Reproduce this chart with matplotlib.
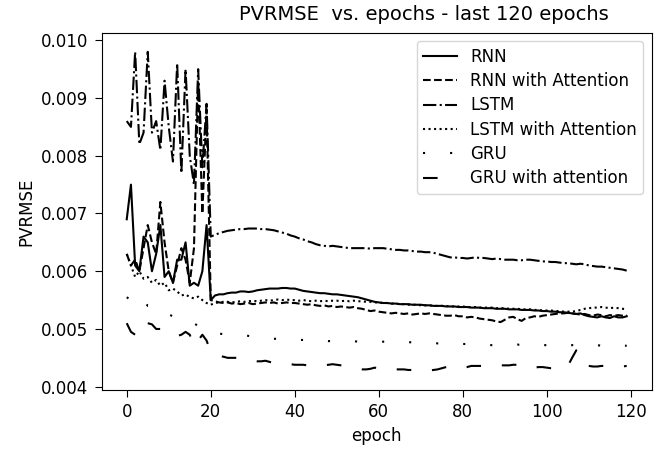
import numpy as np
import matplotlib
matplotlib.use("Agg")
import matplotlib.pyplot as plt

epochs = list(range(120))

rnn = [0.0069, 0.0075, 0.0061, 0.0060, 0.0066, 0.0065, 0.0060, 0.0063, 0.0068, 0.0059,
       0.0060, 0.0058, 0.0062, 0.0062, 0.0065, 0.00575, 0.0058, 0.00575, 0.0060, 0.0068,
       0.0055, 0.00558, 0.0056, 0.0056, 0.00562, 0.00563, 0.00563, 0.00565, 0.00565, 0.00564,
       0.00565, 0.00567, 0.00568, 0.00569, 0.0057, 0.0057, 0.0057, 0.00571, 0.00571, 0.0057,
       0.0057, 0.00568, 0.00566, 0.00565, 0.00564, 0.00563, 0.00562, 0.00562, 0.00561, 0.0056,
       0.0056, 0.00559, 0.00558, 0.00557, 0.00556, 0.00555, 0.00553, 0.00551, 0.00549, 0.00547,
       0.00546, 0.00545, 0.00545, 0.00544, 0.00544, 0.00543, 0.00543, 0.00543, 0.00542, 0.00542,
       0.00542, 0.00541, 0.00541, 0.0054, 0.0054, 0.0054, 0.00539, 0.00539, 0.00539, 0.00538,
       0.00538, 0.00538, 0.00537, 0.00537, 0.00537, 0.00536, 0.00536, 0.00536, 0.00535, 0.00535,
       0.00535, 0.00534, 0.00534, 0.00534, 0.00533, 0.00533, 0.00533, 0.00532, 0.00532, 0.00531,
       0.00531, 0.0053, 0.0053, 0.00529, 0.00529, 0.00528, 0.00527, 0.00526, 0.00527, 0.00524,
       0.00522, 0.00521, 0.0052, 0.00522, 0.0052, 0.00519, 0.00522, 0.0052, 0.0052, 0.00522]

rnn_att = [0.0063, 0.0061, 0.0062, 0.0060, 0.0064, 0.0068, 0.0065, 0.0063, 0.0072, 0.0065,
           0.0060, 0.0058, 0.0061, 0.0064, 0.0062, 0.0058, 0.0064, 0.0093, 0.0070, 0.0088,
           0.0055, 0.00548, 0.00546, 0.00545, 0.00546, 0.00544, 0.00545, 0.00543, 0.00544, 0.00545,
           0.00543, 0.00544, 0.00545, 0.00546, 0.00545, 0.00546, 0.00544, 0.00545, 0.00546, 0.00545,
           0.00545, 0.00544, 0.00543, 0.00542, 0.00543, 0.00541, 0.0054, 0.00541, 0.00539, 0.0054,
           0.00538, 0.00539, 0.00538, 0.00537, 0.00538, 0.00536, 0.00535, 0.00533, 0.00531, 0.00532,
           0.0053, 0.00529, 0.00528, 0.00527, 0.00528, 0.00527, 0.00526, 0.00527, 0.00525, 0.00526,
           0.00527, 0.00526, 0.00527, 0.00526, 0.00525, 0.00524, 0.00523, 0.00523, 0.00524, 0.00522,
           0.00522, 0.0052, 0.00521, 0.0052, 0.00518, 0.00517, 0.00516, 0.00515, 0.00513, 0.00512,
           0.00516, 0.0052, 0.00521, 0.00517, 0.00514, 0.00519, 0.0052, 0.00522, 0.00521, 0.00523,
           0.00524, 0.00525, 0.00526, 0.00527, 0.00527, 0.00528, 0.00527, 0.00526, 0.00525, 0.00526,
           0.00524, 0.00523, 0.00525, 0.00524, 0.00522, 0.00524, 0.00523, 0.00524, 0.00523, 0.00524]

lstm = [0.0086, 0.0085, 0.0098, 0.0082, 0.0084, 0.0098, 0.0084, 0.0086, 0.0081, 0.0093,
        0.0085, 0.0079, 0.0096, 0.0077, 0.0095, 0.0080, 0.0075, 0.0095, 0.0078, 0.0089,
        0.0066, 0.00663, 0.00666, 0.00668, 0.0067, 0.00671, 0.00672, 0.00673, 0.00673, 0.00674,
        0.00674, 0.00674, 0.00673, 0.00673, 0.00672, 0.00671, 0.00669, 0.00667, 0.00665, 0.00662,
        0.0066, 0.00657, 0.00655, 0.00652, 0.0065, 0.00647, 0.00645, 0.00644, 0.00643, 0.00644,
        0.00643, 0.00642, 0.00641, 0.0064, 0.0064, 0.0064, 0.0064, 0.0064, 0.00639, 0.0064,
        0.0064, 0.0064, 0.00639, 0.00638, 0.00637, 0.00637, 0.00636, 0.00636, 0.00635, 0.00634,
        0.00634, 0.00633, 0.00633, 0.00632, 0.0063, 0.00628, 0.00626, 0.00624, 0.00624, 0.00623,
        0.00623, 0.00622, 0.00623, 0.00624, 0.00623, 0.00623, 0.00622, 0.00621, 0.00622, 0.00621,
        0.0062, 0.0062, 0.0062, 0.00619, 0.00619, 0.0062, 0.0062, 0.00619, 0.00618, 0.00617,
        0.00617, 0.00616, 0.00616, 0.00615, 0.00614, 0.00614, 0.00613, 0.00612, 0.00613, 0.00612,
        0.0061, 0.00609, 0.00608, 0.00608, 0.00607, 0.00606, 0.00605, 0.00604, 0.00603, 0.00601]

lstm_att = [0.0063, 0.0061, 0.0059, 0.0060, 0.00587, 0.0059, 0.0058, 0.00585, 0.00575, 0.0058,
            0.00567, 0.0057, 0.00565, 0.00558, 0.0056, 0.00555, 0.00553, 0.00556, 0.0055, 0.00545,
            0.00542, 0.00545, 0.00546, 0.00547, 0.00547, 0.00546, 0.00547, 0.00548, 0.00547, 0.00548,
            0.00549, 0.00548, 0.00549, 0.0055, 0.00549, 0.0055, 0.00551, 0.0055, 0.00551, 0.0055,
            0.0055, 0.00549, 0.0055, 0.00549, 0.00548, 0.00549, 0.00548, 0.00549, 0.00548, 0.00549,
            0.00549, 0.00548, 0.00549, 0.00548, 0.00549, 0.00548, 0.00548, 0.00547, 0.00547, 0.00546,
            0.00546, 0.00545, 0.00545, 0.00544, 0.00544, 0.00543, 0.00543, 0.00542, 0.00542, 0.00542,
            0.00541, 0.00541, 0.00541, 0.0054, 0.0054, 0.0054, 0.0054, 0.00539, 0.00539, 0.00539,
            0.00539, 0.00538, 0.00538, 0.00538, 0.00537, 0.00537, 0.00537, 0.00537, 0.00536, 0.00536,
            0.00536, 0.00535, 0.00535, 0.00535, 0.00534, 0.00534, 0.00534, 0.00533, 0.00533, 0.00532,
            0.00532, 0.00532, 0.00531, 0.00531, 0.0053, 0.0053, 0.0053, 0.00531, 0.00533, 0.00535,
            0.00536, 0.00537, 0.00537, 0.00538, 0.00537, 0.00536, 0.00537, 0.00536, 0.00535, 0.00534]

gru = [0.00555, 0.0055, 0.0055, 0.00558, 0.0055, 0.0054, 0.0054, 0.00535, 0.0053, 0.0053,
       0.00525, 0.00522, 0.0052, 0.0052, 0.00518, 0.00515, 0.0051, 0.00505, 0.005, 0.00498,
       0.00496, 0.00494, 0.00492, 0.00491, 0.0049, 0.0049, 0.0049, 0.0049, 0.00489, 0.00488,
       0.00487, 0.00486, 0.00485, 0.00485, 0.00484, 0.00483, 0.00483, 0.00482, 0.00482, 0.00481,
       0.00481, 0.00481, 0.00481, 0.0048, 0.0048, 0.0048, 0.0048, 0.0048, 0.00479, 0.00479,
       0.00479, 0.00479, 0.00479, 0.00479, 0.00479, 0.00478, 0.00478, 0.00478, 0.00478, 0.00478,
       0.00478, 0.00478, 0.00478, 0.00477, 0.00477, 0.00477, 0.00477, 0.00477, 0.00477, 0.00476,
       0.00476, 0.00476, 0.00476, 0.00476, 0.00475, 0.00475, 0.00475, 0.00475, 0.00475, 0.00474,
       0.00474, 0.00474, 0.00473, 0.00473, 0.00473, 0.00473, 0.00472, 0.00472, 0.00472, 0.00472,
       0.00472, 0.00472, 0.00472, 0.00473, 0.00472, 0.00472, 0.00472, 0.00472, 0.00471, 0.00472,
       0.00472, 0.00471, 0.00472, 0.00472, 0.00472, 0.00471, 0.00472, 0.00472, 0.00471, 0.00472,
       0.00471, 0.00471, 0.00472, 0.00471, 0.00472, 0.00471, 0.00471, 0.00472, 0.00471, 0.00471]

gru_att = [0.0051, 0.00495, 0.0049, 0.0051, 0.0051, 0.0051, 0.00508, 0.0050, 0.0050, 0.00495,
           0.0049, 0.0049, 0.00488, 0.0049, 0.00495, 0.0049, 0.0047, 0.0048, 0.0049, 0.0048,
           0.0046, 0.00455, 0.00453, 0.00452, 0.0045, 0.0045, 0.0045, 0.0045, 0.00449, 0.00447,
           0.00445, 0.00444, 0.00444, 0.00445, 0.00443, 0.00441, 0.0044, 0.0044, 0.0044, 0.00439,
           0.00438, 0.00438, 0.00438, 0.00437, 0.00437, 0.00438, 0.00437, 0.00437, 0.00438, 0.00439,
           0.00438, 0.00437, 0.00436, 0.00434, 0.00432, 0.00431, 0.0043, 0.0043, 0.00431, 0.00433,
           0.00432, 0.0043, 0.00429, 0.00429, 0.0043, 0.0043, 0.0043, 0.00429, 0.00429, 0.0043,
           0.0043, 0.00429, 0.00428, 0.00429, 0.0043, 0.00432, 0.00434, 0.00436, 0.00435, 0.00433,
           0.00433, 0.00434, 0.00436, 0.00436, 0.00436, 0.00436, 0.00436, 0.00436, 0.00436, 0.00437,
           0.00437, 0.00437, 0.00438, 0.00438, 0.00436, 0.00433, 0.00432, 0.00433, 0.00434, 0.00434,
           0.00433, 0.00432, 0.00432, 0.00432, 0.00433, 0.00436, 0.0045, 0.00463, 0.00448, 0.00437,
           0.00436, 0.00435, 0.00435, 0.00436, 0.00436, 0.00435, 0.00435, 0.00436, 0.00435, 0.00436]

labels = ["RNN", "RNN with Attention", "LSTM", "LSTM with Attention", "GRU", "GRU with attention"]
styles = ["-", "--", "-.", ":", (0, (1, 12)), (0, (7, 10))]

plt.rcParams["font.size"] = 12
plt.rcParams["xtick.major.size"] = 5
plt.rcParams["ytick.major.size"] = 5
plt.rcParams["xtick.major.pad"] = 4.5
plt.rcParams["ytick.major.pad"] = 4.5

fig, ax = plt.subplots(figsize=(6.65, 4.49), dpi=100)
fig.subplots_adjust(left=0.153, right=0.980, top=0.927, bottom=0.131)

for ys, lab, ls in zip([rnn, rnn_att, lstm, lstm_att, gru, gru_att], labels, styles):
    ax.plot(epochs, ys, color="black", linestyle=ls, linewidth=1.5, label=lab)

# title sits right of the axes centre in the original
ax.set_title("PVRMSE  vs. epochs - last 120 epochs", fontsize=14, x=0.585, pad=9)
ax.set_xlabel("epoch")
ax.set_ylabel("PVRMSE")
ax.set_xticks([0, 20, 40, 60, 80, 100, 120])
ax.set_ylim(0.00394, 0.01013)
ax.legend(loc="upper right", labelspacing=0.38)

fig.savefig("out.png")
